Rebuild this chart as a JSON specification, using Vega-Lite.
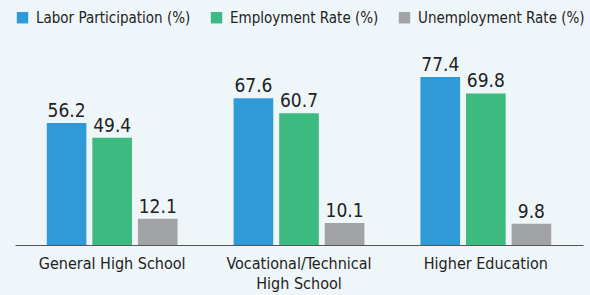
{
  "$schema": "https://vega.github.io/schema/vega-lite/v6.json",
  "autosize": {"type": "none"},
  "padding": {"left": 15, "top": 40, "right": 7, "bottom": 50},
  "width": 568,
  "height": 205,
  "background": "#EFF6F9",
  "config": {
    "font": "DejaVu Sans Condensed, Roboto, sans-serif",
    "view": {"stroke": null}
  },
  "data": {
    "values": [
      {"group": "General High School", "series": "Labor Participation (%)", "value": 56.2},
      {"group": "General High School", "series": "Employment Rate (%)", "value": 49.4},
      {"group": "General High School", "series": "Unemployment Rate (%)", "value": 12.1},
      {"group": "Vocational/Technical High School", "series": "Labor Participation (%)", "value": 67.6},
      {"group": "Vocational/Technical High School", "series": "Employment Rate (%)", "value": 60.7},
      {"group": "Vocational/Technical High School", "series": "Unemployment Rate (%)", "value": 10.1},
      {"group": "Higher Education", "series": "Labor Participation (%)", "value": 77.4},
      {"group": "Higher Education", "series": "Employment Rate (%)", "value": 69.8},
      {"group": "Higher Education", "series": "Unemployment Rate (%)", "value": 9.8}
    ]
  },
  "encoding": {
    "x": {
      "field": "group", "type": "nominal", "sort": null,
      "scale": {"paddingInner": 0.3, "paddingOuter": 0.17},
      "axis": {
        "title": null, "labelAngle": 0, "ticks": false, "domainColor": "#555", "domainWidth": 1.2,
        "labelFontSize": 16, "labelColor": "#222", "labelPadding": 10, "labelLineHeight": 20, "labelLimit": 300,
        "labelExpr": "datum.value == 'Vocational/Technical High School' ? ['Vocational/Technical', 'High School'] : datum.value"
      }
    },
    "xOffset": {"field": "series", "type": "nominal", "sort": null, "scale": {"paddingInner": 0.13}},
    "y": {"field": "value", "type": "quantitative", "scale": {"domain": [0, 94.4]}, "axis": null}
  },
  "layer": [
    {
      "mark": {"type": "bar"},
      "encoding": {
        "color": {
          "field": "series", "type": "nominal", "sort": null,
          "scale": {"domain": ["Labor Participation (%)", "Employment Rate (%)", "Unemployment Rate (%)"], "range": ["#2F9AD8", "#3DBA80", "#A2A3A5"]},
          "legend": {
            "title": null, "orient": "none", "legendX": 0, "legendY": -30, "direction": "horizontal",
            "symbolType": "square", "symbolSize": 130, "labelFontSize": 15, "labelColor": "#222", "labelLimit": 300,
            "columnPadding": 18, "labelOffset": 6, "symbolStrokeWidth": 0
          }
        }
      }
    },
    {
      "mark": {"type": "text", "baseline": "alphabetic", "dy": -6, "fontSize": 19, "color": "#222"},
      "encoding": {"text": {"field": "value", "type": "quantitative", "format": ".1f"}}
    }
  ]
}
